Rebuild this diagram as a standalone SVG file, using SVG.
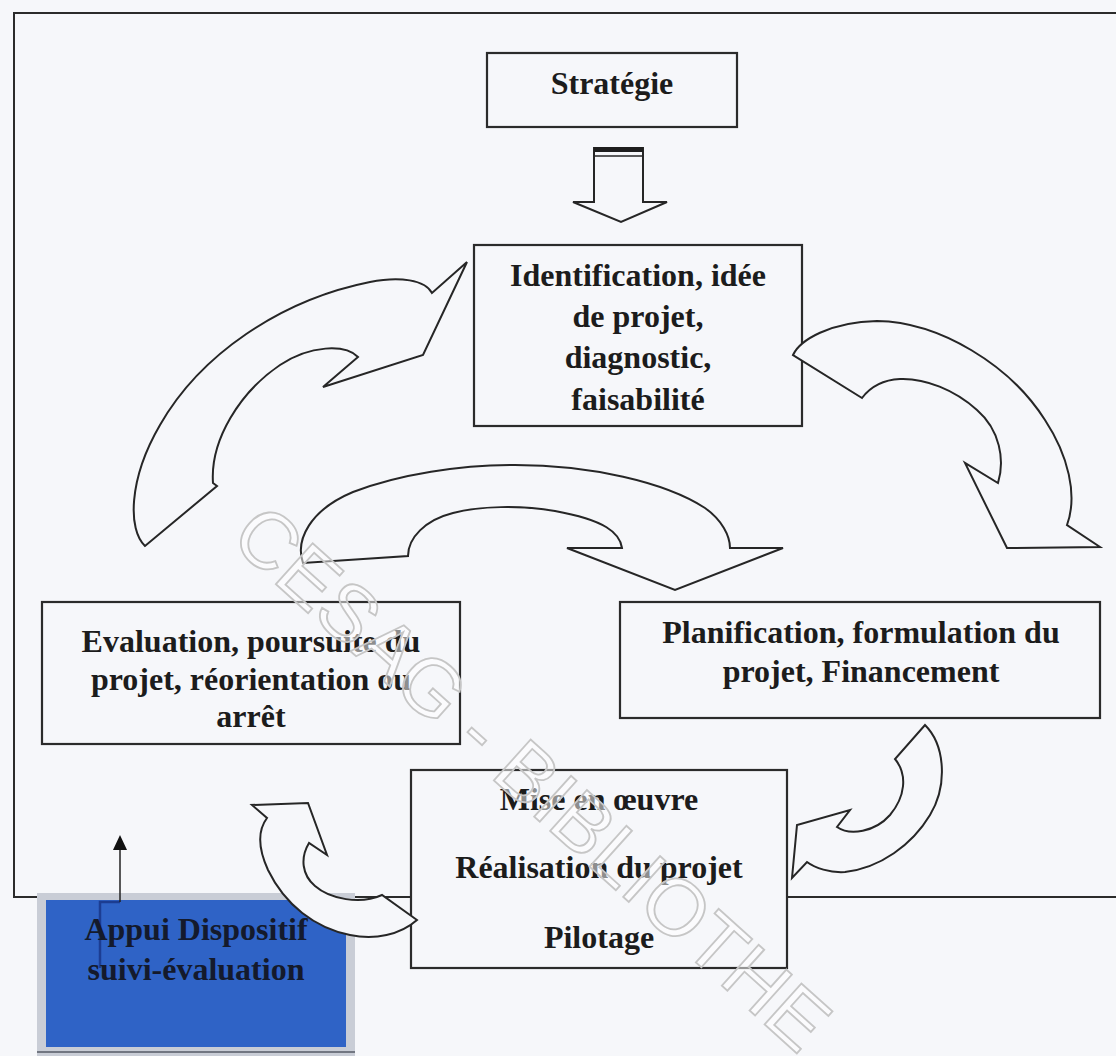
<svg xmlns="http://www.w3.org/2000/svg" width="1116" height="1056" viewBox="0 0 1116 1056">
  <style>
    .frame { fill: none; stroke: #2b2b2b; stroke-width: 2; }
    .box { fill: #f6f7fa; stroke: #2b2b2b; stroke-width: 2.2; }
    .label { font-family: "Liberation Serif", "Times New Roman", serif; font-weight: bold; font-size: 32px; fill: #1c1c1c; text-anchor: middle; }
    .block { fill: #f6f7fa; stroke: #262626; stroke-width: 2; stroke-linejoin: miter; }
    .mark { font-family: "Liberation Sans", Arial, sans-serif; font-size: 80px; fill: #ffffff; fill-opacity: 0.5; stroke: #c6c6c6; stroke-width: 1.8; }
  </style>

  <!-- page background -->
  <rect x="0" y="0" width="1116" height="1056" fill="#f6f7fa"/>

  <!-- outer frame -->
  <path class="frame" d="M1116,13 L14,13 L14,897 L1116,897"/>

  <g id="node-strategie">
    <rect class="box" x="487" y="53" width="250" height="74"/>
    <text class="label" x="612" y="94">Stratégie</text>
  </g>

  <g id="node-identification">
    <rect class="box" x="474" y="245" width="328" height="181"/>
    <text class="label" x="638" y="286">Identification, idée</text>
    <text class="label" x="638" y="327">de projet,</text>
    <text class="label" x="638" y="368">diagnostic,</text>
    <text class="label" x="638" y="410">faisabilité</text>
  </g>

  <g id="node-evaluation">
    <rect class="box" x="42" y="602" width="418" height="142"/>
    <text class="label" x="251" y="652">Evaluation, poursuite du</text>
    <text class="label" x="251" y="690">projet, réorientation ou</text>
    <text class="label" x="251" y="727">arrêt</text>
  </g>

  <g id="node-planification">
    <rect class="box" x="620" y="602" width="480" height="116"/>
    <text class="label" x="861" y="643">Planification, formulation du</text>
    <text class="label" x="861" y="682">projet, Financement</text>
  </g>

  <g id="node-mise-en-oeuvre">
    <rect class="box" x="411" y="770" width="376" height="198"/>
    <text class="label" x="599" y="810">Mise en œuvre</text>
    <text class="label" x="599" y="878">Réalisation du projet</text>
    <text class="label" x="599" y="948">Pilotage</text>
  </g>

  <g id="node-appui">
    <rect x="37" y="893" width="318" height="163" fill="#c9cdd6"/>
    <rect x="46" y="900" width="300" height="147" fill="#2f63c6"/>
    <line x1="37" y1="1052" x2="355" y2="1052" stroke="#555a66" stroke-width="1.5"/>
    <path d="M120,902 L100,902 L100,968" fill="none" stroke="#1c3d92" stroke-width="2.5"/>
    <text class="label" x="196" y="940" style="fill:#141a2c">Appui Dispositif</text>
    <text class="label" x="196" y="980" style="fill:#141a2c">suivi-évaluation</text>
  </g>

  <g id="connectors">
    <!-- Stratégie to Identification: hollow block arrow -->
    <path class="block" d="M594,148 L643,148 L643,202 L667,202 L621,222 L573,202 L594,202 Z"/>
    <rect x="594" y="147" width="49" height="5" fill="#1e1e1e"/>
    <line x1="594" y1="156" x2="643" y2="156" stroke="#262626" stroke-width="1.5"/>

    <!-- Evaluation back to Identification -->
    <path class="block" d="M145,546 C128,530 128,480 160,425 C200,355 280,300 370,282 C400,276 425,280 432,293 L467,262 L423,355 L323,387 L358,357 C345,344 310,345 280,365 C240,392 210,440 213,483 L217,486 Z"/>

    <!-- Identification to Planification -->
    <path class="block" d="M793,355 C800,340 830,322 877,321 C940,322 1010,365 1045,420 C1068,455 1078,495 1067,525 L1100,547 L1007,548 L965,463 L998,483 C1005,460 1000,430 977,410 C955,390 925,378 900,379 C880,380 868,390 862,398 Z"/>

    <!-- Evaluation across to Planification -->
    <path class="block" d="M303,563 C295,540 310,510 353,492 C400,474 460,465 515,465 C590,465 665,482 705,508 C722,520 730,536 730,548 L783,548 L675,590 L567,548 L622,548 C620,533 605,520 555,511 C520,505 480,506 453,513 C425,520 408,538 408,556 Z"/>

    <!-- Planification down to Mise en oeuvre -->
    <path class="block" d="M925,725 C945,745 948,785 930,815 C912,845 880,868 845,872 C830,873 815,868 807,862 L792,878 L797,825 L850,810 L837,827 C850,836 875,832 890,815 C905,797 908,775 895,759 Z"/>

    <!-- Mise en oeuvre back to Evaluation -->
    <path class="block" d="M417,920 C400,935 375,940 350,935 C315,928 285,905 268,870 C258,848 258,830 267,818 L252,805 L308,803 L327,855 L309,843 C300,858 302,875 315,886 C330,899 360,905 382,895 Z"/>

    <!-- Appui dispositif upward pointer -->
    <line x1="120" y1="902" x2="120" y2="849" stroke="#222" stroke-width="1.5"/>
    <polygon points="113,850 127,850 120,835" fill="#111"/>
  </g>

  <!-- library watermark stamped over the page -->
  <text class="mark" x="228" y="541" transform="rotate(42 228 541)">CESAG - BIBLIOTHE</text>
</svg>
